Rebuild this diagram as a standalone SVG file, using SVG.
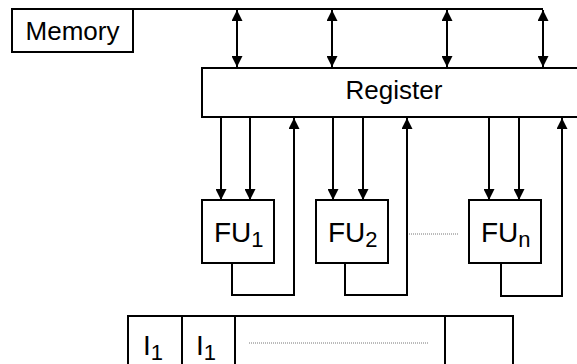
<svg xmlns="http://www.w3.org/2000/svg" width="577" height="364" viewBox="0 0 577 364">
<defs>
<marker id="ah" viewBox="0 0 10 10" refX="10" refY="5" markerWidth="11" markerHeight="11" markerUnits="userSpaceOnUse" orient="auto-start-reverse">
<path d="M0,0 L10,5 L0,10 z" fill="#000"/>
</marker>
<style>
.box{fill:#fff;stroke:#000;stroke-width:2}
.ln{fill:none;stroke:#000;stroke-width:2}
.arr{fill:none;stroke:#000;stroke-width:2;marker-end:url(#ah)}
.dbl{fill:none;stroke:#000;stroke-width:2;marker-start:url(#ah);marker-end:url(#ah)}
.dot{fill:none;stroke:#777;stroke-width:1;stroke-dasharray:1 1}
.t{font-family:"Liberation Sans",Arial,sans-serif;font-size:26px;fill:#000}
.f{font-size:28px}
.s{font-size:22px}
</style>
</defs>
<rect width="577" height="364" fill="#fff"/>
<g id="connectors">
<path class="ln" d="M123,9 H543"/>
<path class="dbl" d="M237,10 V67"/>
<path class="dbl" d="M332,10 V67"/>
<path class="dbl" d="M447,10 V67"/>
<path class="dbl" d="M543,10 V67"/>
<path class="arr" d="M221,117 V200"/>
<path class="arr" d="M250,117 V200"/>
<path class="arr" d="M333,117 V200"/>
<path class="arr" d="M363,117 V200"/>
<path class="arr" d="M489,117 V200"/>
<path class="arr" d="M519,117 V200"/>
<path class="arr" d="M232,263 V295 H294 V118"/>
<path class="arr" d="M345,263 V295 H407 V118"/>
<path class="arr" d="M501,263 V296 H562 V118"/>
<path class="dot" d="M409,234 H458"/>
</g>
<g id="memory">
<rect class="box" x="12" y="9" width="121" height="43"/>
<text class="t" x="72.5" y="40" text-anchor="middle">Memory</text>
</g>
<g id="register">
<rect class="box" x="202" y="68" width="385" height="49"/>
<text class="t" x="394" y="99" text-anchor="middle">Register</text>
</g>
<g id="fu1">
<rect class="box" x="202" y="200" width="72" height="63"/>
<text class="t f" x="214" y="242">FU<tspan class="s" dy="5">1</tspan></text>
</g>
<g id="fu2">
<rect class="box" x="316" y="200" width="72" height="63"/>
<text class="t f" x="328" y="242">FU<tspan class="s" dy="5">2</tspan></text>
</g>
<g id="fun">
<rect class="box" x="469" y="200" width="72" height="63"/>
<text class="t f" x="481" y="242">FU<tspan class="s" dy="5">n</tspan></text>
</g>
<g id="instruction">
<rect class="box" x="128" y="316" width="385" height="60"/>
<path class="ln" d="M182,316 V364 M235,316 V364 M445,316 V364"/>
<text class="t f" x="143" y="355">I<tspan class="s" dy="5">1</tspan></text>
<text class="t f" x="196" y="355">I<tspan class="s" dy="5">1</tspan></text>
<path class="dot" d="M249,343 H429"/>
</g>
</svg>
